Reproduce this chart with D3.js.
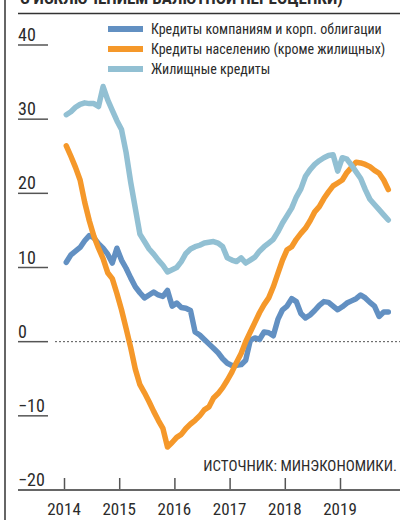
<!DOCTYPE html>
<html>
<head>
<meta charset="utf-8">
<script src="https://cdn.jsdelivr.net/npm/d3@7"></script>
<style>
  body { margin: 0; background: #fff; }
  svg text { font-family: "Liberation Sans Narrow", "Roboto Condensed", "Arial Narrow", sans-serif; fill: #2b2b2b; }
</style>
</head>
<body>
<div id="graph"></div>
<script>
/*******************************************************************************
* Data: monthly values, Jan 2014 .. Nov 2019, % y/y
*******************************************************************************/
var startYear = 2014;
var yearTicks = [2014, 2015, 2016, 2017, 2018, 2019];
var valueTicks = [40, 30, 20, 10, 0, -10, -20];

var seriesNames = [
  "Кредиты компаниям и корп. облигации",
  "Кредиты населению (кроме жилищных)",
  "Жилищные кредиты"
];

var corporate = [
  10.7, 11.7, 12.2, 12.7, 13.6, 14.3, 14.0, 13.2, 12.6, 11.8, 10.6, 12.6,
  11.0, 9.9, 8.6, 7.4, 6.6, 5.9, 6.3, 6.7, 6.3, 6.1, 6.9, 4.8,
  5.2, 4.6, 4.5, 4.2, 1.3, 0.9, 0.3, -0.3, -0.9, -1.5, -2.3, -2.9,
  -3.2, -3.2, -3.1, -2.5, 0.2, 0.5, 0.3, 1.3, 1.2, 0.8, 3.0, 4.3,
  4.8, 5.8, 5.4, 3.8, 3.2, 3.6, 4.2, 4.9, 5.4, 5.3, 4.8, 4.3,
  4.7, 5.2, 5.5, 5.8, 6.3, 5.9, 5.3, 4.8, 3.4, 4.0, 4.0
];

var consumer = [
  26.4, 25.0, 23.5, 21.8, 18.8, 16.3, 14.2, 12.6, 11.2, 9.3, 8.5, 6.5,
  4.3, 1.8, -0.8, -3.7, -5.8, -6.9, -8.1, -9.4, -10.6, -11.7, -14.2, -13.6,
  -12.9, -12.5, -11.7, -11.1, -10.6, -10.0, -9.2, -8.8, -7.6, -7.0, -6.2, -5.2,
  -4.1, -2.8, -1.6, 0.0, 1.3, 2.6, 3.9, 5.0, 5.9, 7.4, 9.2, 11.0,
  12.4, 12.8, 13.8, 14.6, 15.3, 16.3, 17.5, 18.2, 19.3, 20.2, 21.0, 21.4,
  21.8, 22.8, 23.5, 24.2, 24.1, 23.9, 23.6, 23.1, 22.7, 21.8, 20.5
];

var housing = [
  30.6, 31.0, 31.6, 32.0, 32.2, 32.1, 32.1, 31.7, 34.4, 32.6, 31.2, 29.8,
  28.6, 25.5, 21.5, 18.0, 14.5, 13.5, 12.5, 11.8, 11.0, 10.3, 9.4, 9.7,
  10.0, 10.8, 11.9, 12.5, 12.8, 13.0, 13.3, 13.4, 13.5, 13.3, 12.8, 11.3,
  11.0, 10.8, 11.3, 10.6, 11.0, 11.4, 12.2, 12.8, 13.3, 13.8, 14.8, 16.0,
  17.0, 18.0, 19.5, 20.6, 22.3, 23.2, 23.9, 24.4, 24.8, 25.1, 25.2, 23.0,
  24.8, 24.6, 23.8, 22.9, 22.0, 20.5, 19.2, 18.5, 17.8, 17.1, 16.4
];

var colors = ["#6290c2", "#f5982a", "#92c0d3"];

/*******************************************************************************
* Svg Container
*******************************************************************************/
var fullWidth = 400;
var fullHeight = 520;

var container = d3.select("#graph").append("svg")
  .attr("width", fullWidth)
  .attr("height", fullHeight);

var x = d3.scaleLinear().domain([2014, 2019]).range([64, 340]);
var y = d3.scaleLinear().domain([-20, 40]).range([490, 45]);

function monthX(i) { return x(startYear + (i + 0.5) / 12); }

/*******************************************************************************
* frame and title (title is cropped at the top, as in the source)
*******************************************************************************/
container.append("line")
  .attr("x1", 5).attr("x2", 5).attr("y1", 0).attr("y2", fullHeight)
  .attr("stroke", "#333").attr("stroke-width", 1.5);

container.append("text")
  .attr("x", 20).attr("y", 4)
  .style("font-size", "17px").style("font-weight", "bold")
  .text("С ИСКЛЮЧЕНИЕМ ВАЛЮТНОЙ ПЕРЕОЦЕНКИ)");

container.append("line")
  .attr("x1", 18).attr("x2", fullWidth).attr("y1", 13.5).attr("y2", 13.5)
  .attr("stroke", "#333").attr("stroke-width", 1.5);

/*******************************************************************************
* y axis: labels above short underlines
*******************************************************************************/
var yGroup = container.append("g");
valueTicks.forEach(function(v) {
  if (v !== -20) {
    yGroup.append("line")
      .attr("x1", 18).attr("x2", 48).attr("y1", y(v)).attr("y2", y(v))
      .attr("stroke", "#555").attr("stroke-width", 1.5);
  }
  yGroup.append("text")
    .attr("x", 18).attr("y", y(v) - 4)
    .style("font-size", "18px")
    .text(v < 0 ? "\u2212" + Math.abs(v) : v);
});

// zero line
container.append("line")
  .attr("x1", 55).attr("x2", fullWidth).attr("y1", y(0)).attr("y2", y(0))
  .attr("stroke", "#555").attr("stroke-width", 1)
  .attr("stroke-dasharray", "2,2");

/*******************************************************************************
* x axis
*******************************************************************************/
var xAxis = d3.axisTop(x)
  .tickValues(yearTicks)
  .tickSize(12)
  .tickFormat("");

var xGroup = container.append("g")
  .attr("transform", "translate(0," + y(-20) + ")")
  .call(xAxis);
xGroup.select(".domain").remove();
xGroup.selectAll(".tick line").attr("stroke", "#555").attr("stroke-width", 1.5);

container.append("line")
  .attr("x1", 18).attr("x2", fullWidth).attr("y1", y(-20)).attr("y2", y(-20))
  .attr("stroke", "#666").attr("stroke-width", 2);

container.selectAll(".year")
  .data(yearTicks)
  .enter()
  .append("text")
  .attr("class", "year")
  .attr("x", function(d) { return x(d); })
  .attr("y", 515)
  .attr("text-anchor", "middle")
  .style("font-size", "17px")
  .text(function(d) { return d; });

/*******************************************************************************
* lines
*******************************************************************************/
var line = d3.line()
  .x(function(d, i) { return monthX(i); })
  .y(function(d) { return y(d); })
  .curve(d3.curveLinear);

var linesGroup = container.append("g");
[corporate, consumer, housing].forEach(function(s, k) {
  linesGroup.append("path")
    .attr("d", line(s))
    .attr("fill", "none")
    .attr("stroke", colors[k])
    .attr("stroke-width", 5.5)
    .attr("stroke-linejoin", "round")
    .attr("stroke-linecap", "round");
});

/*******************************************************************************
* legend
*******************************************************************************/
var legend = container.append("g");
seriesNames.forEach(function(name, k) {
  var ly = 29 + k * 20;
  legend.append("rect")
    .attr("x", 108).attr("y", ly - 3).attr("width", 35).attr("height", 6)
    .attr("fill", colors[k]);
  legend.append("text")
    .attr("x", 151).attr("y", ly + 5)
    .style("font-size", "14px")
    .text(name);
});

container.append("text")
  .attr("x", 397).attr("y", 471)
  .attr("text-anchor", "end")
  .style("font-size", "15px")
  .text("ИСТОЧНИК: МИНЭКОНОМИКИ.");
</script>
</body>
</html>
